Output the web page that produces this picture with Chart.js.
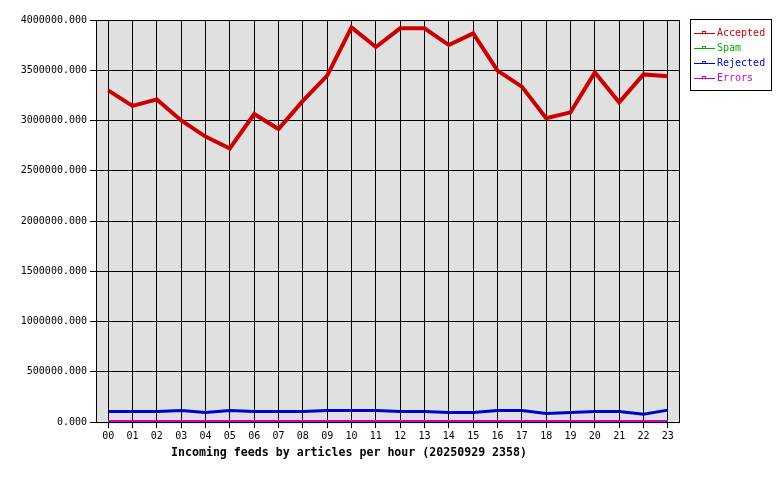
<!DOCTYPE html>
<html>
<head>
<meta charset="utf-8">
<script src="https://cdn.jsdelivr.net/npm/chart.js@4"></script>
<style>
  html, body { margin: 0; padding: 0; background: #fff; }
  #wrap { width: 780px; height: 480px; }
</style>
</head>
<body>
<div id="wrap"><canvas id="feedChart" width="780" height="480"></canvas></div>
<script>
// hours of the day
const hours = ['00','01','02','03','04','05','06','07','08','09','10','11',
               '12','13','14','15','16','17','18','19','20','21','22','23'];

// articles per hour
const accepted = [3300000, 3145000, 3210000, 3000000, 2840000, 2722000, 3065000, 2915000,
                  3195000, 3446000, 3927000, 3731000, 3917000, 3917000, 3751000, 3867000,
                  3497000, 3337000, 3022000, 3081000, 3479000, 3181000, 3459000, 3440000];
const spam     = [8000, 8000, 8000, 8000, 8000, 8000, 8000, 8000, 8000, 8000, 8000, 8000,
                  8000, 8000, 8000, 8000, 8000, 8000, 8000, 8000, 8000, 8000, 8000, 8000];
const rejected = [106000, 106000, 106000, 116000, 96000, 116000, 106000, 106000,
                  106000, 116000, 116000, 116000, 106000, 106000, 96000, 96000,
                  116000, 116000, 86000, 96000, 106000, 106000, 77000, 119000];
const errors   = [10000, 10000, 10000, 10000, 10000, 10000, 10000, 10000, 10000, 10000, 10000, 10000,
                  10000, 10000, 10000, 10000, 10000, 10000, 10000, 10000, 10000, 10000, 10000, 10000];

const yTicks = [0, 500000, 1000000, 1500000, 2000000, 2500000, 3000000, 3500000, 4000000];

const mono = '"DejaVu Sans Mono", "Liberation Mono", monospace';

// grey plot background + frame around the chart area (under the lines)
const plotFrame = {
    id: 'plotFrame',
    beforeDraw(chart) {
        const a = chart.chartArea, ctx = chart.ctx;
        ctx.save();
        ctx.fillStyle = '#e0e0e0';
        ctx.fillRect(a.left, a.top, a.right - a.left, a.bottom - a.top);
        ctx.restore();
    },
    beforeDatasetsDraw(chart) {
        const a = chart.chartArea, ctx = chart.ctx;
        ctx.save();
        ctx.strokeStyle = '#000';
        ctx.lineWidth = 1;
        ctx.strokeRect(a.left + 0.5, a.top + 0.5, a.right - a.left - 1, a.bottom - a.top);
        ctx.restore();
    }
};

// boxed legend on the right, line + tiny marker + coloured text
const boxLegend = {
    id: 'boxLegend',
    afterDraw(chart) {
        const ctx = chart.ctx;
        const x = 690, y = 19, w = 81, h = 71;
        ctx.save();
        ctx.fillStyle = '#fff';
        ctx.fillRect(x, y, w, h);
        ctx.strokeStyle = '#000';
        ctx.lineWidth = 1;
        ctx.strokeRect(x + 0.5, y + 0.5, w, h);
        ctx.font = '10px ' + mono;
        ctx.textBaseline = 'middle';
        chart.data.datasets.forEach(function (ds, i) {
            const ry = 33.5 + i * 15;
            ctx.strokeStyle = ds.borderColor;
            ctx.fillStyle = ds.borderColor;
            ctx.beginPath();
            ctx.moveTo(694, ry);
            ctx.lineTo(715, ry);
            ctx.stroke();
            ctx.strokeRect(702.5, ry - 2, 3, 2);
            ctx.fillText(ds.label, 717, ry);
        });
        ctx.restore();
    }
};

const ctx = document.getElementById('feedChart').getContext('2d');
new Chart(ctx, {
    type: 'line',
    data: {
        labels: hours,
        datasets: [
            { label: 'Accepted', data: accepted, borderColor: '#cc0000', borderWidth: 4, order: 3 },
            { label: 'Spam',     data: spam,     borderColor: '#00aa00', borderWidth: 2, order: 2 },
            { label: 'Rejected', data: rejected, borderColor: '#0000cc', borderWidth: 3, order: 1 },
            { label: 'Errors',   data: errors,   borderColor: '#cc00cc', borderWidth: 2, order: 0 }
        ]
    },
    options: {
        responsive: false,
        animation: false,
        devicePixelRatio: 1,
        layout: { padding: { top: 20, right: 100, bottom: 0, left: 18 } },
        elements: {
            point: { radius: 0, hoverRadius: 0 },
            line: { tension: 0, fill: false, borderCapStyle: 'butt', borderJoinStyle: 'miter' }
        },
        plugins: {
            legend: { display: false },
            tooltip: { enabled: false },
            title: {
                display: true,
                position: 'bottom',
                text: 'Incoming feeds by articles per hour (20250929 2358)',
                color: '#000',
                font: { family: mono, size: 11.6, weight: 'bold' },
                padding: { top: 2, bottom: 20 }
            }
        },
        scales: {
            x: {
                offset: true,
                grid: { color: '#000', lineWidth: 1, tickLength: 6, offset: false },
                border: { display: false },
                ticks: {
                    color: '#000', padding: 2, maxRotation: 0, autoSkip: false,
                    font: { family: mono, size: 10 }
                },
                afterFit(scale) { scale.height = 22; }
            },
            y: {
                min: 0,
                max: 4000000,
                grid: { color: '#000', lineWidth: 1, tickLength: 6 },
                border: { display: false },
                afterBuildTicks(scale) { scale.ticks = yTicks.map(v => ({ value: v })); },
                ticks: {
                    color: '#000', padding: 3,
                    font: { family: mono, size: 10 },
                    callback: v => Number(v).toFixed(3)
                },
                afterFit(scale) { scale.width = 78; }
            }
        }
    },
    plugins: [plotFrame, boxLegend]
});
</script>
</body>
</html>
